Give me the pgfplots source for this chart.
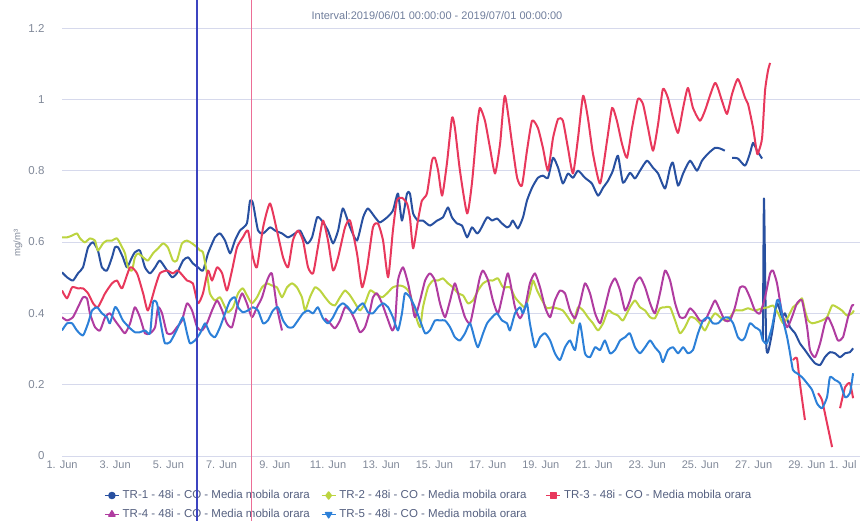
\documentclass[border=0pt]{standalone}
\usepackage{pgfplots}
\pgfplotsset{compat=1.18}
\usepackage{pgfplotstable}
\usepackage{fontspec}
\setmainfont{Liberation Sans}

\definecolor{tronec}{RGB}{40,80,160}
\definecolor{trtwoc}{RGB}{188,212,64}
\definecolor{trthreec}{RGB}{232,56,92}
\definecolor{trfourc}{RGB}{176,60,160}
\definecolor{trfivec}{RGB}{44,128,216}
\definecolor{gridc}{RGB}{214,217,236}
\definecolor{tickc}{RGB}{128,136,152}
\definecolor{titc}{RGB}{112,126,156}
\definecolor{legc}{RGB}{85,96,128}
\definecolor{vblue}{RGB}{60,68,192}
\definecolor{vpink}{RGB}{236,110,150}

% days since 1 Jun 00:00, mg/m3
\pgfplotstableread{
x y
0 0.515
0.19 0.501
0.41 0.492
0.60 0.512
0.79 0.529
0.98 0.585
1.17 0.599
1.35 0.576
1.50 0.529
1.69 0.52
1.88 0.557
1.99 0.585
2.11 0.585
2.29 0.557
2.44 0.529
2.63 0.557
2.74 0.571
2.93 0.576
3.12 0.529
3.31 0.512
3.50 0.529
3.68 0.548
3.95 0.52
4.14 0.501
4.32 0.512
4.55 0.548
4.74 0.557
4.92 0.54
5.11 0.529
5.30 0.52
5.49 0.568
5.75 0.613
5.94 0.624
6.13 0.604
6.32 0.568
6.50 0.604
6.69 0.632
6.95 0.652
7.07 0.716
7.18 0.708
7.37 0.632
7.56 0.624
7.82 0.641
8.01 0.632
8.27 0.624
8.50 0.613
8.76 0.624
8.95 0.632
9.21 0.596
9.40 0.613
9.59 0.669
9.77 0.66
10.0 0.632
10.19 0.596
10.38 0.632
10.56 0.694
10.83 0.641
11.09 0.604
11.32 0.669
11.50 0.694
11.77 0.669
11.95 0.655
12.22 0.669
12.44 0.688
12.63 0.736
12.78 0.66
12.97 0.736
13.08 0.736
13.20 0.68
13.38 0.66
13.57 0.66
13.83 0.646
14.10 0.66
14.32 0.669
14.51 0.697
14.66 0.669
14.85 0.652
15.04 0.646
15.23 0.613
15.41 0.641
15.60 0.624
15.71 0.632
15.98 0.669
16.17 0.66
16.35 0.666
16.54 0.652
16.73 0.641
16.84 0.646
16.95 0.66
17.14 0.638
17.33 0.669
17.48 0.716
17.67 0.752
17.89 0.78
18.08 0.786
18.27 0.78
18.46 0.836
18.65 0.808
18.83 0.764
19.02 0.792
19.21 0.78
19.40 0.80
19.66 0.78
19.92 0.764
20.15 0.73
20.34 0.752
20.53 0.772
20.71 0.80
20.90 0.842
21.09 0.766
21.35 0.794
21.54 0.778
21.73 0.80
21.99 0.828
22.22 0.808
22.41 0.792
22.67 0.75
22.86 0.808
22.97 0.822
23.16 0.758
23.35 0.792
23.61 0.828
23.87 0.80
24.06 0.828
24.29 0.848
24.55 0.864
24.74 0.862
24.92 0.856
25.05 nan
25.19 0.836
25.41 0.834
25.68 0.814
25.86 0.848
25.98 0.878
26.13 0.856
26.32 0.834
26.33 nan
26.35 0.324
26.39 0.722
26.47 0.324
26.54 0.291
26.69 0.344
26.88 0.428
27.07 0.389
27.18 0.40
27.37 0.361
27.56 0.344
27.74 0.316
27.93 0.297
28.12 0.277
28.31 0.26
28.50 0.255
28.68 0.277
28.87 0.291
29.06 0.288
29.25 0.277
29.44 0.288
29.62 0.291
29.74 0.302
}\trone

\pgfplotstableread{
x y
0 0.613
0.19 0.613
0.38 0.618
0.56 0.624
0.68 0.61
0.86 0.599
1.05 0.61
1.24 0.604
1.35 0.576
1.54 0.596
1.69 0.604
1.88 0.604
2.07 0.61
2.26 0.585
2.37 0.568
2.48 0.529
2.63 0.52
2.74 0.557
2.86 0.568
3.05 0.557
3.23 0.548
3.42 0.568
3.61 0.582
3.80 0.596
3.98 0.585
4.17 0.548
4.32 0.548
4.51 0.596
4.70 0.604
4.89 0.596
5.08 0.585
5.19 0.576
5.30 0.571
5.45 0.512
5.56 0.456
5.75 0.436
5.94 0.445
6.13 0.417
6.24 0.403
6.43 0.417
6.62 0.456
6.80 0.47
6.99 0.445
7.14 0.428
7.33 0.445
7.52 0.473
7.71 0.484
7.89 0.478
8.08 0.473
8.27 0.445
8.46 0.473
8.65 0.484
8.83 0.473
9.02 0.445
9.14 0.408
9.32 0.445
9.51 0.473
9.70 0.464
9.89 0.445
10.08 0.428
10.26 0.422
10.45 0.445
10.64 0.464
10.83 0.45
11.02 0.428
11.20 0.408
11.39 0.428
11.58 0.464
11.77 0.456
12.03 0.445
12.22 0.456
12.44 0.473
12.71 0.478
12.89 0.473
13.08 0.456
13.27 0.40
13.46 0.361
13.57 0.417
13.76 0.473
13.95 0.492
14.14 0.492
14.32 0.498
14.51 0.484
14.70 0.473
14.89 0.456
15.08 0.45
15.26 0.428
15.45 0.436
15.64 0.464
15.83 0.484
16.02 0.492
16.20 0.492
16.39 0.498
16.58 0.473
16.84 0.473
17.03 0.445
17.22 0.428
17.41 0.417
17.59 0.456
17.71 0.492
17.86 0.464
18.05 0.436
18.23 0.414
18.42 0.417
18.61 0.414
18.83 0.408
19.02 0.389
19.21 0.372
19.40 0.417
19.59 0.408
19.77 0.389
19.96 0.372
20.15 0.352
20.34 0.372
20.53 0.408
20.71 0.40
20.90 0.394
21.09 0.38
21.35 0.417
21.54 0.436
21.73 0.417
21.92 0.408
22.11 0.389
22.29 0.386
22.48 0.414
22.67 0.417
22.86 0.417
23.05 0.38
23.23 0.344
23.42 0.361
23.61 0.389
23.80 0.386
23.98 0.372
24.17 0.352
24.36 0.38
24.55 0.40
24.74 0.389
24.92 0.38
25.11 0.389
25.30 0.408
25.56 0.408
25.79 0.414
26.05 0.408
26.32 0.414
26.54 0.417
26.73 0.422
26.92 0.40
27.11 0.372
27.29 0.389
27.48 0.417
27.67 0.428
27.82 0.442
27.93 0.408
28.05 0.38
28.20 0.372
28.38 0.375
28.57 0.38
28.76 0.389
28.95 0.422
29.14 0.417
29.32 0.408
29.51 0.394
29.70 0.40
29.77 0.408
}\trtwo

\pgfplotstableread{
x y
0 0.464
0.19 0.442
0.38 0.473
0.60 0.47
0.79 0.47
0.98 0.456
1.17 0.428
1.35 0.417
1.62 0.456
1.88 0.484
2.07 0.492
2.26 0.47
2.56 0.529
2.82 0.512
3.05 0.456
3.23 0.408
3.50 0.473
3.68 0.512
3.95 0.52
4.17 0.512
4.36 0.52
4.70 0.492
4.92 0.484
5.11 0.428
5.30 0.456
5.49 0.52
5.64 0.492
5.83 0.529
6.02 0.512
6.20 0.464
6.39 0.52
6.58 0.585
6.80 0.613
6.99 0.632
7.18 0.557
7.33 0.529
7.56 0.641
7.82 0.708
8.08 0.632
8.31 0.557
8.50 0.529
8.68 0.604
8.87 0.632
9.06 0.604
9.25 0.529
9.44 0.512
9.62 0.585
9.81 0.66
10.0 0.604
10.19 0.52
10.38 0.557
10.64 0.641
10.83 0.66
11.09 0.568
11.28 0.473
11.47 0.529
11.69 0.641
11.88 0.652
12.07 0.604
12.26 0.501
12.44 0.632
12.59 0.716
12.78 0.724
12.97 0.708
13.08 0.669
13.20 0.582
13.38 0.66
13.53 0.716
13.72 0.736
13.91 0.828
14.02 0.836
14.14 0.80
14.29 0.73
14.47 0.82
14.66 0.948
14.77 0.92
14.96 0.80
15.23 0.68
15.41 0.764
15.60 0.92
15.71 0.976
15.90 0.94
16.09 0.864
16.28 0.792
16.47 0.876
16.65 1.01
16.92 0.876
17.11 0.78
17.29 0.758
17.48 0.856
17.67 0.94
17.89 0.92
18.08 0.864
18.27 0.80
18.46 0.892
18.65 0.945
18.83 0.94
19.02 0.864
19.21 0.792
19.40 0.892
19.59 1.01
19.77 0.948
19.96 0.848
20.23 0.764
20.49 0.884
20.68 0.976
20.86 0.94
21.05 0.876
21.24 0.836
21.43 0.92
21.65 1.001
21.84 0.987
22.03 0.92
22.22 0.856
22.41 0.931
22.59 1.029
22.78 1.004
22.97 0.948
23.16 0.906
23.35 0.976
23.53 1.032
23.72 0.976
23.98 0.94
24.17 0.968
24.55 1.046
24.81 0.996
25.0 0.959
25.19 1.015
25.41 1.057
25.68 1.004
25.79 0.987
25.98 0.92
26.13 0.848
26.20 0.856
26.32 0.892
26.43 1.024
26.54 1.08
26.62 1.102
27.0 nan
27.48 0.269
27.63 0.274
27.74 0.204
27.93 0.101
28.2 nan
28.42 0.176
28.57 0.157
28.76 0.092
28.95 0.025
29.1 nan
29.25 0.134
29.44 0.193
29.62 0.204
29.74 0.162
}\trthree

\pgfplotstableread{
x y
0 0.389
0.19 0.38
0.41 0.389
0.60 0.417
0.79 0.445
0.94 0.442
1.05 0.40
1.24 0.361
1.43 0.352
1.62 0.389
1.80 0.40
1.99 0.38
2.18 0.361
2.37 0.344
2.56 0.372
2.74 0.417
2.93 0.389
3.12 0.344
3.31 0.344
3.50 0.361
3.61 0.417
3.76 0.40
3.95 0.344
4.14 0.344
4.32 0.361
4.51 0.38
4.70 0.428
4.89 0.408
5.08 0.361
5.26 0.352
5.45 0.372
5.64 0.408
5.83 0.436
6.02 0.408
6.20 0.372
6.39 0.361
6.58 0.417
6.77 0.456
6.95 0.428
7.14 0.389
7.33 0.417
7.52 0.445
7.71 0.492
7.89 0.512
8.08 0.417
8.27 0.352
9.0 nan
9.89 0.386
10.08 0.372
10.26 0.358
10.45 0.38
10.64 0.417
10.83 0.408
11.02 0.38
11.20 0.347
11.39 0.361
11.58 0.408
11.69 0.445
11.84 0.456
12.03 0.428
12.22 0.389
12.41 0.352
12.52 0.372
12.63 0.492
12.82 0.529
13.01 0.484
13.16 0.428
13.27 0.389
13.46 0.436
13.65 0.492
13.83 0.512
14.02 0.492
14.21 0.428
14.40 0.389
14.59 0.436
14.77 0.484
14.96 0.436
15.15 0.389
15.34 0.372
15.53 0.436
15.71 0.501
15.83 0.52
16.02 0.492
16.20 0.436
16.39 0.40
16.58 0.456
16.77 0.512
17.03 0.417
17.22 0.386
17.41 0.417
17.59 0.484
17.78 0.512
17.97 0.473
18.16 0.417
18.35 0.389
18.53 0.436
18.72 0.464
18.91 0.456
19.10 0.408
19.29 0.386
19.47 0.428
19.66 0.484
19.85 0.456
20.04 0.40
20.23 0.372
20.41 0.417
20.60 0.473
20.79 0.498
20.98 0.464
21.17 0.408
21.35 0.436
21.54 0.484
21.73 0.501
21.92 0.473
22.11 0.428
22.29 0.40
22.48 0.456
22.67 0.52
22.86 0.492
23.05 0.428
23.23 0.389
23.42 0.389
23.61 0.414
23.80 0.40
23.98 0.38
24.17 0.38
24.36 0.408
24.55 0.436
24.74 0.408
24.92 0.38
25.11 0.38
25.30 0.417
25.49 0.473
25.68 0.473
25.86 0.445
26.05 0.408
26.24 0.40
26.43 0.445
26.62 0.512
26.73 0.52
26.88 0.484
27.07 0.40
27.26 0.361
27.44 0.389
27.63 0.428
27.82 0.436
28.01 0.361
28.12 0.297
28.31 0.277
28.50 0.316
28.68 0.372
28.80 0.389
28.98 0.361
29.17 0.324
29.36 0.333
29.55 0.389
29.70 0.422
29.77 0.422
}\trfour

\pgfplotstableread{
x y
0 0.352
0.19 0.372
0.38 0.372
0.56 0.352
0.79 0.338
0.98 0.372
1.13 0.408
1.32 0.417
1.50 0.40
1.69 0.389
1.80 0.372
1.99 0.417
2.11 0.408
2.29 0.38
2.56 0.358
2.74 0.347
2.93 0.347
3.12 0.352
3.31 0.344
3.42 0.431
3.57 0.428
3.76 0.352
3.87 0.316
4.06 0.319
4.25 0.344
4.36 0.361
4.55 0.389
4.70 0.344
4.81 0.316
5.00 0.324
5.19 0.344
5.38 0.372
5.56 0.344
5.75 0.333
5.94 0.361
6.13 0.40
6.32 0.436
6.50 0.445
6.62 0.417
6.80 0.403
6.99 0.408
7.18 0.417
7.37 0.408
7.56 0.372
7.74 0.38
7.93 0.408
8.12 0.417
8.31 0.38
8.50 0.361
8.68 0.361
8.87 0.38
9.06 0.40
9.25 0.408
9.44 0.40
9.62 0.417
9.81 0.386
10.0 0.372
10.19 0.389
10.38 0.417
10.56 0.428
10.75 0.417
10.94 0.40
11.13 0.417
11.32 0.428
11.50 0.403
11.69 0.40
11.88 0.417
12.07 0.428
12.26 0.417
12.44 0.389
12.63 0.352
12.78 0.40
12.89 0.456
13.08 0.445
13.27 0.417
13.46 0.38
13.65 0.344
13.83 0.352
14.02 0.38
14.21 0.38
14.40 0.38
14.59 0.361
14.77 0.333
14.96 0.324
15.15 0.344
15.34 0.372
15.53 0.324
15.64 0.305
15.83 0.344
15.98 0.372
16.17 0.389
16.35 0.40
16.54 0.38
16.73 0.372
16.84 0.352
17.03 0.40
17.22 0.417
17.33 0.40
17.48 0.428
17.59 0.372
17.78 0.305
17.97 0.333
18.16 0.344
18.35 0.324
18.53 0.288
18.72 0.269
18.91 0.305
19.10 0.324
19.29 0.297
19.47 0.372
19.66 0.288
19.85 0.277
20.04 0.305
20.23 0.297
20.41 0.324
20.60 0.288
20.79 0.297
20.98 0.324
21.17 0.333
21.35 0.344
21.54 0.305
21.73 0.288
21.92 0.305
22.11 0.324
22.29 0.305
22.48 0.288
22.59 0.263
22.78 0.297
22.97 0.305
23.16 0.288
23.35 0.305
23.53 0.288
23.72 0.297
23.91 0.344
24.10 0.38
24.29 0.389
24.47 0.372
24.66 0.372
24.85 0.386
25.04 0.389
25.23 0.372
25.41 0.333
25.56 0.324
25.68 0.333
25.86 0.372
26.05 0.361
26.24 0.352
26.35 0.324
26.50 0.316
26.69 0.361
26.88 0.436
26.99 0.428
27.11 0.38
27.26 0.333
27.37 0.288
27.48 0.241
27.63 0.232
27.82 0.221
28.01 0.204
28.20 0.185
28.38 0.148
28.57 0.134
28.76 0.165
28.87 0.221
29.06 0.213
29.25 0.204
29.44 0.165
29.62 0.176
29.74 0.232
}\trfive

\begin{document}
\begin{tikzpicture}
\path[use as bounding box] (0pt,0pt) rectangle (861pt,521pt);
\begin{axis}[
  at={(62pt,65pt)}, anchor=south west,
  scale only axis, width=798pt, height=428pt,
  xmin=0, xmax=30, ymin=0, ymax=1.2,
  axis line style={draw=none},
  tick style={draw=none},
  ymajorgrids=true,
  grid style={color=gridc, line width=0.7pt},
  ytick={0,0.2,0.4,0.6,0.8,1,1.2},
  xtick={0,2,...,28},
  xticklabels={1. Jun,3. Jun,5. Jun,7. Jun,9. Jun,11. Jun,13. Jun,15. Jun,17. Jun,19. Jun,21. Jun,23. Jun,25. Jun,27. Jun,29. Jun},
  extra x ticks={30},
  extra x tick labels={1. Jul},
  extra x tick style={xticklabel style={anchor=north east}},
  ticklabel style={text=tickc},
  xticklabel style={font=\fontsize{11}{13}\selectfont, yshift=-1pt},
  yticklabel style={font=\fontsize{11.5}{13}\selectfont, xshift=-14pt},
  /pgf/number format/assume math mode=true,
  /pgf/number format/fixed,
  unbounded coords=jump,
  every axis plot/.append style={line width=2pt, smooth, tension=0.35, line join=round},
  legend columns=3,
  legend cell align=left,
  legend image code/.code={\draw[mark repeat=2,mark phase=2,#1] plot coordinates {(0pt,0pt) (7pt,0pt) (14pt,0pt)};},
  legend style={draw=none, fill=none, at={(0.0526,-0.078)}, anchor=north west,
    font=\fontsize{11.5}{13}\selectfont, text=legc, inner sep=0pt, row sep=7pt,
    nodes={inner xsep=3pt, inner ysep=1pt},
    /tikz/column 2/.style={column sep=8pt},
    /tikz/column 4/.style={column sep=16pt}},
]
\addplot[tronec, forget plot] table {\trone};
\addplot[trtwoc, forget plot] table {\trtwo};
\addplot[trthreec, forget plot] table {\trthree};
\addplot[trfourc, forget plot] table {\trfour};
\addplot[trfivec, forget plot] table {\trfive};

\addlegendimage{tronec, line width=1.5pt, sharp plot, mark=*, mark size=3pt}
\addlegendentry{TR-1 - 48i - CO - Media mobila orara}
\addlegendimage{trtwoc, line width=1.5pt, sharp plot, mark=diamond*, mark size=3.5pt}
\addlegendentry{TR-2 - 48i - CO - Media mobila orara}
\addlegendimage{trthreec, line width=1.5pt, sharp plot, mark=square*, mark size=2.8pt}
\addlegendentry{TR-3 - 48i - CO - Media mobila orara}
\addlegendimage{trfourc, line width=1.5pt, sharp plot, mark=triangle*, mark size=3.5pt}
\addlegendentry{TR-4 - 48i - CO - Media mobila orara}
\addlegendimage{trfivec, line width=1.5pt, sharp plot, mark=triangle*, mark size=3.5pt, mark options={rotate=180}}
\addlegendentry{TR-5 - 48i - CO - Media mobila orara}
\end{axis}
\node[text=titc, font=\fontsize{11}{13}\selectfont] at (437pt,505pt) {Interval:2019/06/01 00:00:00 - 2019/07/01 00:00:00};
\node[rotate=90, text=tickc, font=\fontsize{9.5}{11}\selectfont] at (18pt,278pt) {mg/m³};
\draw[vblue, line width=1.1pt] (197pt,0pt) -- (197pt,521pt);
\draw[vpink, line width=0.9pt] (251pt,0pt) -- (251pt,521pt);
\end{tikzpicture}
\end{document}
